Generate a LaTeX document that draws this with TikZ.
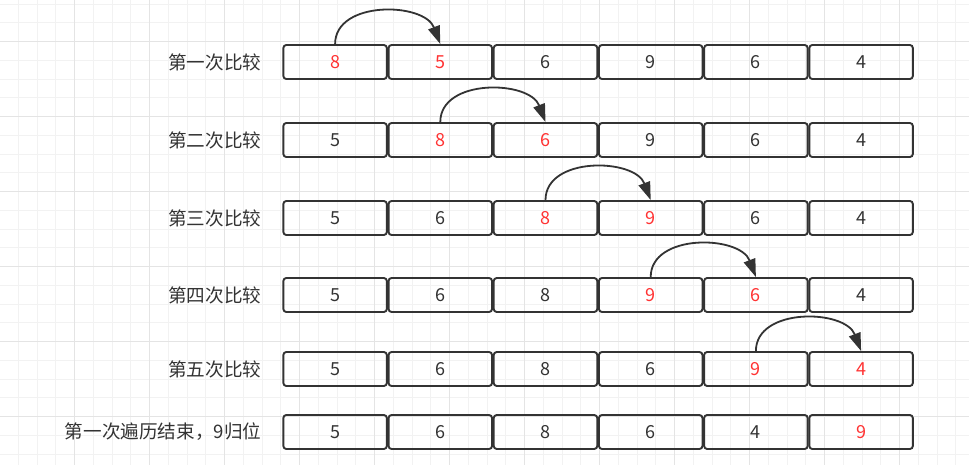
\documentclass[tikz,border=0pt]{standalone}
\usepackage{fontspec}
\setmainfont{Noto Sans CJK SC}
\usetikzlibrary{arrows.meta, positioning}
\definecolor{darkgray}{RGB}{51,51,51}
\definecolor{swapred}{RGB}{255,51,51}
\definecolor{gridminor}{RGB}{242,242,242}
\definecolor{gridmajor}{RGB}{228,228,228}
\tikzset{cellnode/.style={rectangle, draw=darkgray, line width=1.9pt, rounded corners=3pt, minimum width=103.5pt, minimum height=34pt, inner sep=0pt, text=darkgray, font=\fontsize{18}{18}\selectfont},
rednode/.style={cellnode, text=swapred},
rowlabel/.style={inner sep=0pt, text=darkgray, font=\fontsize{18.6}{18.6}\selectfont},
swaparrow/.style={draw=darkgray, line width=1.8pt, -{Triangle[length=18pt, width=12pt]}}}

\begin{document}
\begin{tikzpicture}[x=1pt, y=-1pt]
        \useasboundingbox (0, 0) rectangle (969, 465);
        \fill[white] (0, 0) rectangle (969, 465);
        % Grid
        \foreach \k in {0,...,51} {
            \draw[gridminor, line width=0.8pt] ({-0.5+18.75*\k}, 0) -- ({-0.5+18.75*\k}, 465);
        }
        \foreach \k in {0,...,24} {
            \draw[gridminor, line width=0.8pt] (0, {4+18.75*\k}) -- (969, {4+18.75*\k});
        }
        \foreach \k in {0,...,12} {
            \draw[gridmajor, line width=0.8pt] ({-0.5+75*\k}, 0) -- ({-0.5+75*\k}, 465);
        }
        \foreach \k in {0,...,5} {
            \draw[gridmajor, line width=0.8pt] (0, {41.5+75*\k}) -- (969, {41.5+75*\k});
        }
        % Rows
        \foreach \r/\y/\txt/\cells in {
            1/62/第一次比较/{8/rednode, 5/rednode, 6/cellnode, 9/cellnode, 6/cellnode, 4/cellnode},
            2/140/第二次比较/{5/cellnode, 8/rednode, 6/rednode, 9/cellnode, 6/cellnode, 4/cellnode},
            3/218/第三次比较/{5/cellnode, 6/cellnode, 8/rednode, 9/rednode, 6/cellnode, 4/cellnode},
            4/295/第四次比较/{5/cellnode, 6/cellnode, 8/cellnode, 9/rednode, 6/rednode, 4/cellnode},
            5/369/第五次比较/{5/cellnode, 6/cellnode, 8/cellnode, 6/cellnode, 9/rednode, 4/rednode},
            6/432/第一次遍历结束，9归位/{5/cellnode, 6/cellnode, 8/cellnode, 6/cellnode, 4/cellnode, 9/rednode}} {
            \foreach \v/\s [count=\c] in \cells {
                \node[\s] (cell-\r-\c) at ({282.5+105.2*(\c-0.5)}, \y) {\v};
            }
            \node[rowlabel, left=21pt of cell-\r-1] (label-\r) {\txt};
        }
        % Swaps
        \foreach \r in {1,...,5} {
            \pgfmathtruncatemacro{\n}{\r+1}
            \draw[swaparrow] (cell-\r-\r.north) .. controls +(0, -44) and +(-16, -42) .. (cell-\r-\n.north);
        }
    \end{tikzpicture}
\end{document}
